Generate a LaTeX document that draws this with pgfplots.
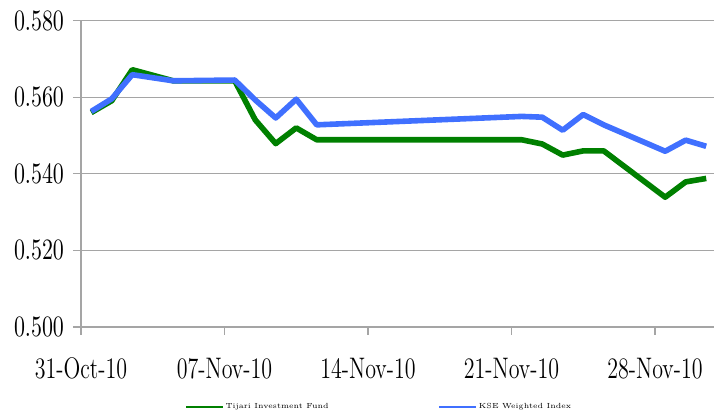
\documentclass[border=0pt]{standalone}
\usepackage{pgfplots}
\pgfplotsset{compat=1.18}
\definecolor{tgreen}{RGB}{0,128,0}
\definecolor{kblue}{RGB}{64,112,255}
\definecolor{gridgray}{RGB}{165,165,165}
\begin{document}
\begin{tikzpicture}
\path[use as bounding box] (-40.5pt,-45pt) rectangle (316.5pt,163.5pt);
\begin{axis}[
  at={(0pt,0pt)}, anchor=south west,
  scale only axis, width=316.5pt, height=153.15pt,
  xmin=0, xmax=30.88, ymin=0.5, ymax=0.58,
  axis lines*=left,
  axis line style={gridgray, line width=0.6pt},
  ytick={0.5,0.52,0.54,0.56,0.58},
  ymajorgrids, grid style={gridgray, line width=0.6pt},
  xtick={0,7,14,21,28},
  xticklabels={31-Oct-10,07-Nov-10,14-Nov-10,21-Nov-10,28-Nov-10},
  tick align=outside, major tick length=4pt,
  tick style={gridgray, line width=0.6pt},
  tick label style={font=\fontsize{11}{13}\selectfont, yscale=1.35},
  xticklabel style={anchor=center, yshift=-12.5pt},
  yticklabel style={anchor=east, xshift=-1pt, /pgf/number format/.cd, fixed, fixed zerofill, precision=3},
  scaled y ticks=false,
  legend columns=2,
  legend style={at={(0.470,-0.2612)}, anchor=center, draw=none, fill=none,
    font=\fontsize{3.7}{4.4}\selectfont, nodes={inner sep=0.6pt},
    /tikz/every even column/.append style={column sep=54pt}},
  legend image code/.code={\draw[#1, line width=1.4pt] (0pt,0pt) -- (18.5pt,0pt);},
]
\addplot[tgreen, line width=2.8pt, line join=round] coordinates {
(0.5,0.5560) (1.5,0.5591) (2.5,0.5672) (4.5,0.5643) (7.5,0.5643)
(8.5,0.5541) (9.5,0.5479) (10.5,0.5520) (11.5,0.5489) (21.5,0.5489)
(22.5,0.5478) (23.5,0.5449) (24.5,0.5460) (25.5,0.5460) (28.5,0.5339)
(29.5,0.5379) (30.5,0.5388)};
\addlegendentry{Tijari Investment Fund}
\addplot[kblue, line width=2.8pt, line join=round] coordinates {
(0.5,0.5563) (1.5,0.5596) (2.5,0.5659) (4.5,0.5643) (7.5,0.5645)
(8.5,0.5593) (9.5,0.5546) (10.5,0.5595) (11.5,0.5528) (21.5,0.5550)
(22.5,0.5548) (23.5,0.5514) (24.5,0.5555) (25.5,0.5528) (28.5,0.5459)
(29.5,0.5488) (30.5,0.5472)};
\addlegendentry{KSE Weighted Index}
\end{axis}
\end{tikzpicture}
\end{document}
